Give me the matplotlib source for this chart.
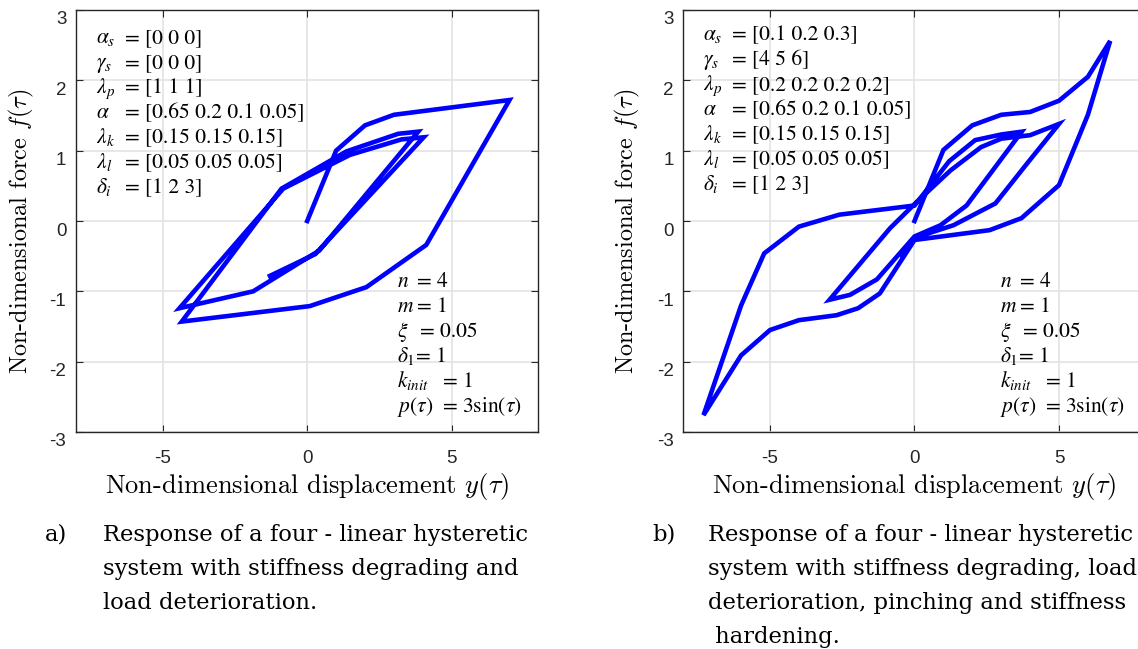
import numpy as np
import matplotlib.pyplot as plt
from matplotlib.transforms import ScaledTranslation

W, H = 1138, 649

# left panel: stiffness degrading + load deterioration
left_y_disp = [0, 1.0, 2.0, 3.0, 7.0, 4.12, 2.05, 0.09, -4.34, -0.89, 1.36, 3.15, 3.84,
               0.42, -1.87, -4.42, -0.83, 1.48, 3.26, 4.03, 0.28, -1.29]
left_f = [0, 1.0, 1.36, 1.51, 1.72, -0.34, -0.94, -1.21, -1.43, 0.46, 0.99, 1.24, 1.27,
          -0.42, -1.0, -1.24, 0.46, 0.94, 1.16, 1.19, -0.47, -0.78]

# right panel: + pinching and stiffness hardening
right_y_disp = [0, 1.0, 2.0, 3.0, 4.0, 5.0, 6.0, 6.77, 6.0, 5.0, 3.7, 2.6, 0, -1.2, -1.95,
                -2.7, -4.0, -5.0, -6.0, -7.3, -6.0, -5.2, -4.0, -2.6, 0, 1.2, 2.1, 3.0,
                3.71, 1.8, 0.9, 0, -1.3, -2.23, -2.94, -0.84, 0.1, 1.25, 2.3, 3.0, 4.0,
                5.0, 3.9, 2.8, 1.35, 0, -0.4]
right_f = [0, 1.01, 1.36, 1.51, 1.55, 1.71, 2.05, 2.56, 1.51, 0.51, 0.04, -0.13, -0.27,
           -1.03, -1.24, -1.34, -1.41, -1.55, -1.91, -2.76, -1.2, -0.46, -0.08, 0.09, 0.22,
           0.85, 1.15, 1.23, 1.27, 0.22, -0.06, -0.22, -0.83, -1.05, -1.12, -0.1, 0.28,
           0.72, 1.05, 1.17, 1.22, 1.38, 0.82, 0.25, -0.06, -0.24, -0.5]

xticks = [-5, 0, 5]
yticks = [-3, -2, -1, 0, 1, 2, 3]

left_params = [(r"$\alpha_s$", "= [0 0 0]"), (r"$\gamma_s$", "= [0 0 0]"),
               (r"$\lambda_p$", "= [1 1 1]"), (r"$\alpha$", "= [0.65 0.2 0.1 0.05]"),
               (r"$\lambda_k$", "= [0.15 0.15 0.15]"), (r"$\lambda_l$", "= [0.05 0.05 0.05]"),
               (r"$\delta_i$", "= [1 2 3]")]
right_params = [(r"$\alpha_s$", "= [0.1 0.2 0.3]"), (r"$\gamma_s$", "= [4 5 6]"),
                (r"$\lambda_p$", "= [0.2 0.2 0.2 0.2]"), (r"$\alpha$", "= [0.65 0.2 0.1 0.05]"),
                (r"$\lambda_k$", "= [0.15 0.15 0.15]"), (r"$\lambda_l$", "= [0.05 0.05 0.05]"),
                (r"$\delta_i$", "= [1 2 3]")]
# (name, offset of the "=" in px, value)
model_params = [(r"$n$", 20, "= 4"), (r"$m$", 20, "= 1"), (r"$\xi$", 23, "= 0.05"),
                (r"$\delta_1$", 19, "= 1"), (r"$k_{init}$", 46, "= 1"),
                (r"$p(\tau)$", 45, r"= 3sin($\tau$)")]

captions_a = ["Response of a four - linear hysteretic",
              "system with stiffness degrading and",
              "load deterioration."]
captions_b = ["Response of a four - linear hysteretic",
              "system with stiffness degrading, load",
              "deterioration, pinching and stiffness",
              " hardening."]

fig = plt.figure(figsize=(W / 100, H / 100), dpi=100)
FS_IN = 15.5


def fx(px):
    return px / W


def fy(py):
    return 1 - py / H


def panel(left_px, xs, ys, params, top_base, model_x):
    ax = fig.add_axes([fx(left_px), fy(432), 462.4 / W, 422 / H])
    ax.plot(xs, ys, color=(0, 0, 1), lw=3.3, solid_joinstyle='miter')
    ax.set_xlim(-8, 8)
    ax.set_ylim(-3, 3)
    ax.set_xticks(xticks)
    ax.set_yticks(yticks)
    ax.set_xticklabels([str(v) for v in xticks], fontsize=13.5, family='Liberation Sans')
    ax.set_yticklabels([str(v) for v in yticks], fontsize=13.5, family='Liberation Sans')
    ax.tick_params(direction='in', length=5, width=0.8, color='#262626',
                   top=True, right=True, labelcolor='#262626')
    ax.tick_params(axis='x', pad=13)
    ax.tick_params(axis='y', pad=7)
    off = ScaledTranslation(0, -8 / 100, fig.dpi_scale_trans)
    for lab in ax.get_yticklabels():
        lab.set_transform(lab.get_transform() + off)
    ax.grid(True, color='#e3e3e3', lw=1.2)
    ax.set_axisbelow(True)
    for s in ax.spines.values():
        s.set_color('#262626')
        s.set_linewidth(1.0)

    x0 = left_px + 20
    for i, (name, val) in enumerate(params):
        py = top_base + 25 * i
        fig.text(fx(x0), fy(py), name, fontsize=FS_IN, math_fontfamily='stix', va='baseline')
        fig.text(fx(x0 + 29), fy(py), val, fontsize=FS_IN, family='STIXGeneral',
                 math_fontfamily='stix', va='baseline')
    for i, (name, dx, val) in enumerate(model_params):
        py = 287 + 25 * i
        fig.text(fx(model_x), fy(py), name, fontsize=FS_IN, math_fontfamily='stix',
                 va='baseline')
        fig.text(fx(model_x + dx), fy(py), val, fontsize=FS_IN, family='STIXGeneral',
                 math_fontfamily='stix', va='baseline')

    cx = left_px + 231.2
    fig.text(fx(cx), fy(487), r"Non-dimensional displacement $y(\tau)$", family='cmr10',
             math_fontfamily='cm', fontsize=19, ha='center', va='center')
    return ax


panel(76, left_y_disp, left_f, left_params, 43, 397)
panel(683.3, right_y_disp, right_f, right_params, 40, 1000)

for xc in (21, 627):
    fig.text(fx(xc), fy(231), r"Non-dimensional force $f(\tau)$", family='cmr10',
             math_fontfamily='cm', fontsize=17.5, rotation=90, ha='center', va='center')

CAP = dict(family='DejaVu Serif', fontsize=16.3, va='center')
fig.text(fx(45), fy(535), "a)", **CAP)
for i, s in enumerate(captions_a):
    fig.text(fx(103), fy(535 + 34 * i), s, **CAP)
fig.text(fx(652), fy(535), "b)", **CAP)
for i, s in enumerate(captions_b):
    fig.text(fx(708), fy(535 + 34 * i), s, **CAP)

fig.savefig('out.png', dpi=100)
